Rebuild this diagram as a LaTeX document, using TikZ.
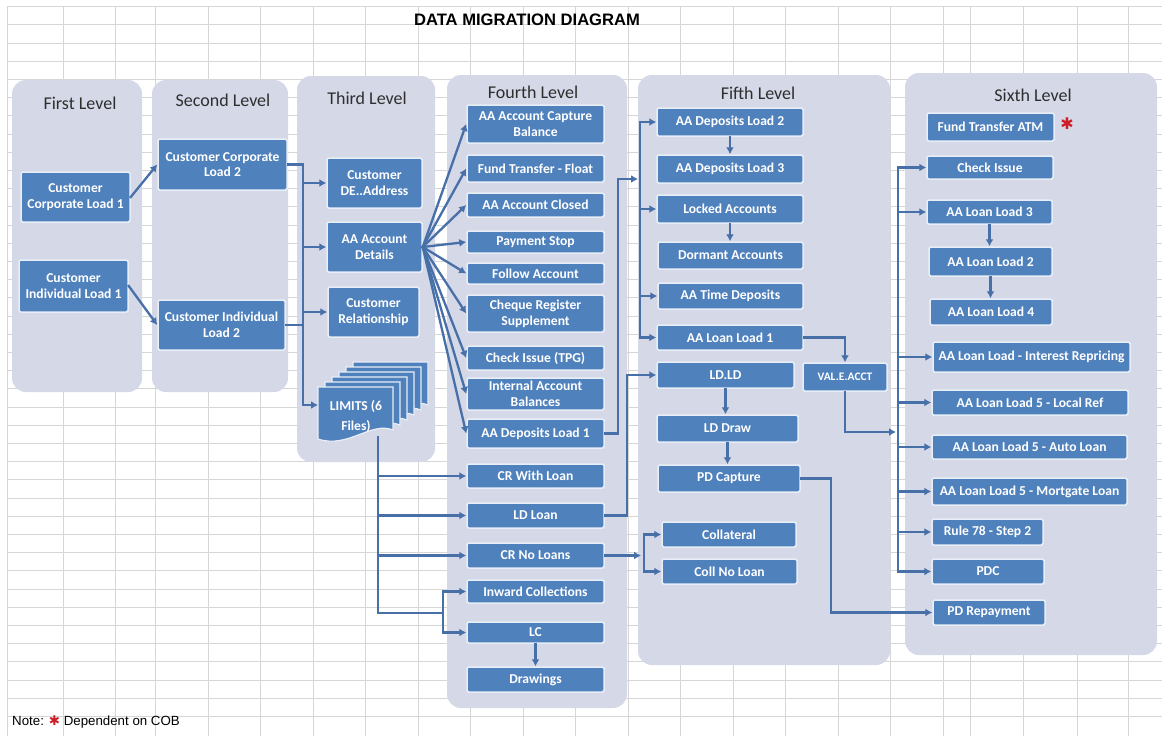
\documentclass[tikz,border=0pt]{standalone}
\usepackage{fontspec}
\setmainfont{Carlito}
\newfontfamily\arialf{Liberation Sans}
\newfontfamily\djv{DejaVu Sans}
\usetikzlibrary{arrows.meta,calc}
\definecolor{boxblue}{RGB}{79,129,189}
\definecolor{boxline}{RGB}{232,238,247}
\definecolor{panelfill}{RGB}{212,216,231}
\definecolor{connc}{RGB}{72,112,168}
\definecolor{gridc}{RGB}{214,214,214}
\definecolor{starred}{RGB}{205,30,40}
\pgfdeclarelayer{bg}
\pgfsetlayers{bg,main}
\begin{document}
\begin{tikzpicture}[x=1pt,y=-1pt,
  box/.style={draw=boxline, line width=1.5pt, fill=boxblue, rounded corners=1.5pt, text=white,
    font=\bfseries\fontsize{13.6}{15.8}\selectfont, align=center, inner sep=0pt},
  panel/.style={fill=panelfill, rounded corners=14pt},
  ptitle/.style={font=\fontsize{18}{20}\selectfont, text=black!82},
  conn/.style={draw=connc, line width=2.3pt, line cap=rect},
  arr/.style={conn, -{Latex[length=7pt,width=8pt]}},
  page/.style={fill=boxblue, draw=boxline, line width=1.2pt},
]
\useasboundingbox (0,0) rectangle (1162,736);
\begin{pgfonlayer}{bg}
  \fill[white] (0,0) rectangle (1162,736);
  \foreach \k in {0,...,39} \draw[gridc, line width=0.7pt] (7,{6.5+18.2*\k}) -- (1162,{6.5+18.2*\k});
  \foreach \x in {7,63,115,155,208,260,313,365,418,470,523,575,628,680,733,785,838,890,943,970,1023,1077,1128}
    \draw[gridc, line width=0.7pt] (\x,6.5) -- (\x,736);
  \fill[panel] (12,80) rectangle (142,392);
  \fill[panel] (152,80) rectangle (288,392);
  \fill[panel] (297,76) rectangle (435,462);
  \fill[panel] (447,75) rectangle (627,708);
  \fill[panel] (638,75) rectangle (890,665);
  \fill[panel] (905,73) rectangle (1157,655);
\end{pgfonlayer}

% titles
\node[font=\arialf\bfseries\fontsize{16.6}{18}\selectfont] (title) at (527,20) {DATA MIGRATION DIAGRAM};
\node[ptitle] (t1) at (80,103) {First Level};
\node[ptitle] (t2) at (223,100) {Second Level};
\node[ptitle] (t3) at (367,98) {Third Level};
\node[ptitle] (t4) at (533,92) {Fourth Level};
\node[ptitle] (t5) at (758,93) {Fifth Level};
\node[ptitle] (t6) at (1033,95) {Sixth Level};

% first and second level
\node[box, minimum width=109, minimum height=50] (c1) at (75.5,197) {Customer\\Corporate Load 1};
\node[box, minimum width=109, minimum height=52] (i1) at (73.5,286) {Customer\\Individual Load 1};
\node[box, minimum width=129, minimum height=51] (c2) at (222.5,164.5) {Customer Corporate\\Load 2};
\node[box, minimum width=127, minimum height=50] (i2) at (221.5,325) {Customer Individual\\Load 2};

% third level
\node[box, minimum width=95, minimum height=50] (dea) at (374.5,183) {Customer\\DE..Address};
\node[box, minimum width=95, minimum height=50] (aad) at (374.5,247) {AA Account\\Details};
\node[box, minimum width=91, minimum height=50] (crel) at (373.5,312) {Customer\\Relationship};
\foreach \k in {5,4,3,2,1,0}{
  \pgfmathsetmacro{\px}{318+7*\k}
  \pgfmathsetmacro{\py}{387-5*\k}
  \draw[page] (\px,\py) -- ({\px+75},\py) -- ({\px+75},{\py+43})
    .. controls ({\px+53},{\py+34}) and ({\px+30},{\py+62}) .. (\px,{\py+52}) -- cycle;
}
\node[font=\bfseries\fontsize{13.6}{20}\selectfont, text=white, align=center, inner sep=0pt] (lim) at (356,416) {LIMITS (6\\Files)};
\coordinate (limin) at (318,405);
\coordinate (lims) at (378,437);

% fourth level
\node[box, minimum width=137, minimum height=38] (f1) at (535.5,124) {AA Account Capture\\Balance};
\node[box, minimum width=137, minimum height=27] (f2) at (535.5,168.5) {Fund Transfer - Float};
\node[box, minimum width=137, minimum height=24] (f3) at (535.5,205) {AA Account Closed};
\node[box, minimum width=137, minimum height=22] (f4) at (535.5,242) {Payment Stop};
\node[box, minimum width=137, minimum height=21] (f5) at (535.5,273.5) {Follow Account};
\node[box, minimum width=137, minimum height=37] (f6) at (535.5,313.5) {Cheque Register\\Supplement};
\node[box, minimum width=137, minimum height=24] (f7) at (535.5,358) {Check Issue (TPG)};
\node[box, minimum width=137, minimum height=32] (f8) at (535.5,394) {Internal Account\\Balances};
\node[box, minimum width=137, minimum height=29] (f9) at (535.5,433.5) {AA Deposits Load 1};
\node[box, minimum width=137, minimum height=24] (f10) at (535.5,476) {CR With Loan};
\node[box, minimum width=137, minimum height=25] (f11) at (535.5,515.5) {LD Loan};
\node[box, minimum width=137, minimum height=25] (f12) at (535.5,555.5) {CR No Loans};
\node[box, minimum width=137, minimum height=23] (f13) at (535.5,591.5) {Inward Collections};
\node[box, minimum width=137, minimum height=21] (f14) at (535.5,632.5) {LC};
\node[box, minimum width=137, minimum height=25] (f15) at (535.5,679.5) {Drawings};

% fifth level
\node[box, minimum width=146, minimum height=28] (e1) at (730,122) {AA Deposits Load 2};
\node[box, minimum width=146, minimum height=28] (e2) at (730,169) {AA Deposits Load 3};
\node[box, minimum width=146, minimum height=28] (e3) at (730,209) {Locked Accounts};
\node[box, minimum width=145, minimum height=27] (e4) at (730.5,255.5) {Dormant Accounts};
\node[box, minimum width=145, minimum height=26] (e5) at (730.5,296) {AA Time Deposits};
\node[box, minimum width=146, minimum height=25] (e6) at (730,337.5) {AA Loan Load 1};
\node[box, minimum width=137, minimum height=26] (e7) at (725.5,375) {LD.LD};
\node[box, minimum width=84, minimum height=28, font=\bfseries\fontsize{11.5}{13}\selectfont] (val) at (845,377) {VAL.E.ACCT};
\node[box, minimum width=141, minimum height=27] (e8) at (727.5,428.5) {LD Draw};
\node[box, minimum width=142, minimum height=27] (e9) at (729,478.5) {PD Capture};
\node[box, minimum width=134, minimum height=25] (e10) at (729,534.5) {Collateral};
\node[box, minimum width=135, minimum height=25] (e11) at (729.5,571.5) {Coll No Loan};

% sixth level
\node[box, minimum width=127, minimum height=28] (s1) at (990.5,127) {Fund Transfer ATM};
\node[font=\djv\fontsize{16}{16}\selectfont, text=starred, inner sep=0pt] (star) at (1067,124) {✱};
\node[box, minimum width=126, minimum height=23] (s2) at (990,167.5) {Check Issue};
\node[box, minimum width=125, minimum height=24] (s3) at (989.5,212) {AA Loan Load 3};
\node[box, minimum width=123, minimum height=29] (s4) at (990.5,261.5) {AA Loan Load 2};
\node[box, minimum width=122, minimum height=26] (s5) at (991,312) {AA Loan Load 4};
\node[box, minimum width=197, minimum height=30] (s6) at (1031.5,357) {AA Loan Load - Interest Repricing};
\node[box, minimum width=196, minimum height=25] (s7) at (1030,402.5) {AA Loan Load 5 - Local Ref};
\node[box, minimum width=195, minimum height=24] (s8) at (1029.5,447) {AA Loan Load 5 - Auto Loan};
\node[box, minimum width=195, minimum height=27] (s9) at (1029.5,491.5) {AA Loan Load 5 - Mortgate Loan};
\node[box, minimum width=111, minimum height=26] (s10) at (987.5,532) {Rule 78 - Step 2};
\node[box, minimum width=112, minimum height=25] (s11) at (988,571.5) {PDC};
\node[box, minimum width=112, minimum height=25] (s12) at (989,612.5) {PD Repayment};

% note
\node[anchor=west, inner sep=0pt, font=\arialf\fontsize{13.3}{15}\selectfont] (note) at (12,722)
  {Note: {\djv\color{starred}✱} Dependent on COB};

% ---- connectors ----
\draw[arr] (c1.east) -- (c2.west);
\draw[arr] (i1.east) -- (i2.west);
\coordinate (b1) at (303,0);
\draw[conn] (c2.east) -- (c2.east -| b1) -- (limin -| b1);
\draw[conn] (i2.east) -- (i2.east -| b1);
\foreach \n in {dea,aad,crel} \draw[arr] (\n.west -| b1) -- (\n.west);
\draw[arr] (limin -| b1) -- (limin);
\foreach \n in {f1,f2,f3,f4,f5,f6,f7,f8,f9} \draw[arr] (aad.east) -- (\n.west);

\coordinate (l1) at (378,613);
\coordinate (l2) at (443,613);
\draw[conn] (lims) -- (l1) -- (l2);
\draw[conn] (f13.west -| l2) -- (f14.west -| l2);
\foreach \n in {f10,f11,f12} \draw[arr] (\n.west -| lims) -- (\n.west);
\foreach \n in {f13,f14} \draw[arr] (\n.west -| l2) -- (\n.west);
\draw[arr] (f14.south) -- (f15.north);

\coordinate (b5) at (640,0);
\draw[conn] (e1.west -| b5) -- (e6.west -| b5);
\foreach \n in {e1,e3,e5,e6} \draw[arr] (\n.west -| b5) -- (\n.west);
\coordinate (j1) at (638,179);
\coordinate (x618) at (618,0);
\draw[arr] (f9.east) -- (f9.east -| x618) -- (j1 -| x618) -- (j1);
\coordinate (x627) at (627,0);
\draw[arr] (f11.east) -- (f11.east -| x627) -- (e7.west -| x627) -- (e7.west);
\coordinate (x641) at (641,0);
\coordinate (x644) at (644,0);
\draw[arr] (f12.east) -- (f12.east -| x641);
\draw[conn] (e10.west -| x644) -- (e11.west -| x644);
\foreach \n in {e10,e11} \draw[arr] (\n.west -| x644) -- (\n.west);
\draw[arr] (e1.south) -- (e1.south |- e2.north);
\draw[arr] (e3.south) -- (e3.south |- e4.north);
\draw[arr] (e7.south) -- (e7.south |- e8.north);
\draw[arr] (e8.south) -- (e8.south |- e9.north);
\draw[arr] (e6.east) -| (val.north);
\coordinate (v6) at (896,432);
\draw[arr] (val.south) |- (v6);
\coordinate (x831) at (831,0);
\draw[arr] (e9.east) -- (e9.east -| x831) |- (s12.west);

\coordinate (b6) at (898,0);
\draw[conn] (s2.west -| b6) -- (s11.west -| b6);
\foreach \n in {s2,s3,s6,s7,s8,s9,s10,s11} \draw[arr] (\n.west -| b6) -- (\n.west);
\draw[arr] (s3.south) -- (s3.south |- s4.north);
\draw[arr] (s4.south) -- (s4.south |- s5.north);
\end{tikzpicture}
\end{document}
